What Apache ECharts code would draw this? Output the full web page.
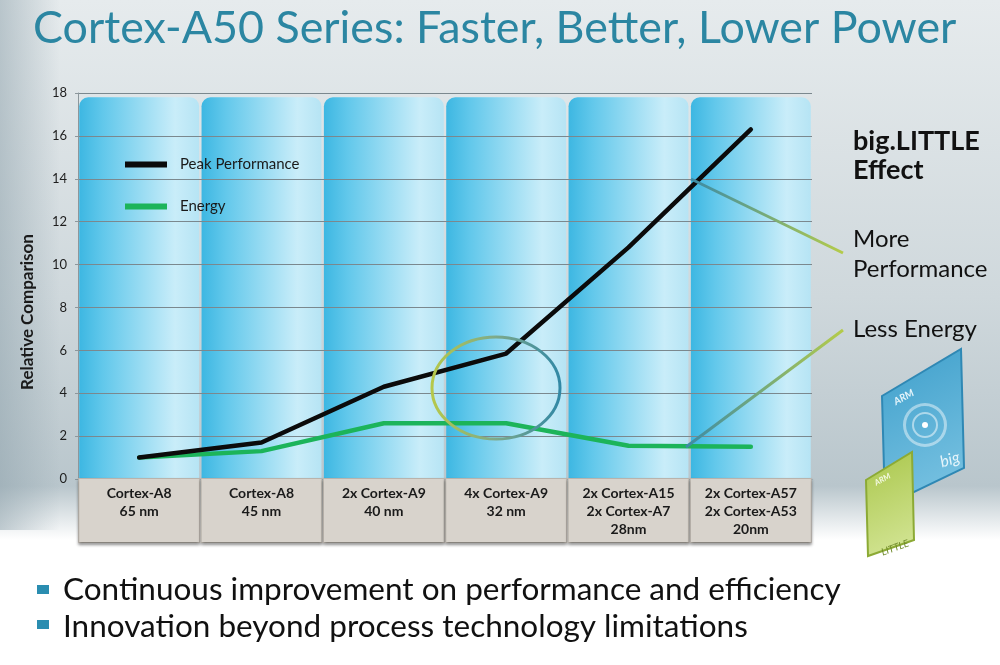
<!DOCTYPE html>
<html lang="en">
<head>
    <meta charset="UTF-8">
    <title>Cortex-A50 Series</title>
    <script src="https://cdn.jsdelivr.net/npm/echarts@6.0.0/dist/echarts.min.js"></script>
    <style>
        html, body {
            margin: 0;
            border: 0;
            background: #ffffff;
        }

        #chart {
            width: 1000px;
            height: 665px;
        }
    </style>
</head>
<body>
<div id="chart"></div>
<script type="text/javascript">
    const categories = [
        'Cortex-A8\n65 nm',
        'Cortex-A8\n45 nm',
        '2x Cortex-A9\n40 nm',
        '4x Cortex-A9\n32 nm',
        '2x Cortex-A15\n2x Cortex-A7\n28nm',
        '2x Cortex-A57\n2x Cortex-A53\n20nm'
    ];
    const peakPerformance = [1.0, 1.7, 4.3, 5.85, 10.8, 16.3];
    const energy = [1.0, 1.3, 2.6, 2.6, 1.55, 1.5];
    const yMin = 0;
    const yMax = 18;
    const yStep = 2;
    const bullets = [
        'Continuous improvement on performance and efficiency',
        'Innovation beyond process technology limitations'
    ];

    const FONT = 'Lato, "DejaVu Sans", sans-serif';

    window.onload = () => {
        const chart = echarts.init(document.querySelector('#chart'), null, {renderer: 'canvas'});

        const columnFill = new echarts.graphic.LinearGradient(0, 0, 1, 0, [
            {offset: 0, color: '#3db7e2'},
            {offset: 0.2, color: '#62c8eb'},
            {offset: 0.8, color: '#c9edf9'},
            {offset: 1, color: '#b6e4f4'}
        ]);
        const calloutStroke = () => new echarts.graphic.LinearGradient(0, 0, 1, 0, [
            {offset: 0, color: '#3a8aa8'},
            {offset: 1, color: '#b6cc48'}
        ]);

        const option = {
            animation: false,
            textStyle: {fontFamily: FONT},
            grid: {left: 78, right: 188, top: 93, bottom: 186},
            legend: {
                orient: 'vertical',
                left: 120,
                top: 152,
                itemWidth: 42,
                itemHeight: 6,
                itemGap: 27,
                icon: 'rect',
                data: ['Peak Performance', 'Energy'],
                textStyle: {fontFamily: FONT, fontSize: 15, color: '#1a1a1a', padding: [0, 0, 0, 8]}
            },
            xAxis: {
                type: 'category',
                data: categories,
                boundaryGap: true,
                axisLine: {show: true, lineStyle: {color: '#8c979c'}},
                axisTick: {show: false},
                axisLabel: {
                    interval: 0,
                    margin: 0,
                    fontFamily: FONT,
                    fontWeight: 'bold',
                    fontSize: 14,
                    color: '#1a1a1a',
                    lineHeight: 18,
                    width: 120,
                    height: 52,
                    padding: [5, 0, 6, 0],
                    align: 'center',
                    verticalAlign: 'top',
                    backgroundColor: '#d8d3cc',
                    borderColor: '#bdb7af',
                    borderWidth: 1,
                    shadowColor: 'rgba(0,0,0,0.35)',
                    shadowBlur: 3,
                    shadowOffsetY: 2
                }
            },
            yAxis: {
                type: 'value',
                min: yMin,
                max: yMax,
                interval: yStep,
                name: 'Relative Comparison',
                nameLocation: 'middle',
                nameGap: 42,
                nameTextStyle: {fontFamily: FONT, fontWeight: 'bold', fontSize: 17, color: '#1a1a1a', padding: [0, 52, 0, 0]},
                axisLine: {show: true, lineStyle: {color: '#8c979c'}},
                axisTick: {show: true, length: 3, lineStyle: {color: '#8c979c'}},
                axisLabel: {fontFamily: FONT, fontSize: 13, color: '#1e1e1e', margin: 11},
                splitLine: {show: true, lineStyle: {color: '#7b888e', width: 1}}
            },
            series: [
                {
                    name: 'columns',
                    type: 'bar',
                    z: -1,
                    silent: true,
                    barCategoryGap: '2%',
                    data: categories.map(() => yMax - 0.2),
                    itemStyle: {color: columnFill, borderRadius: [9, 9, 0, 0]}
                },
                {
                    name: 'Peak Performance',
                    type: 'line',
                    data: peakPerformance,
                    showSymbol: false,
                    symbol: 'none',
                    color: '#0b0b0b',
                    lineStyle: {color: '#0b0b0b', width: 4.5, cap: 'round', join: 'round'},
                    z: 4
                },
                {
                    name: 'Energy',
                    type: 'line',
                    data: energy,
                    showSymbol: false,
                    symbol: 'none',
                    color: '#1cb45a',
                    lineStyle: {color: '#1cb45a', width: 4.5, cap: 'round', join: 'round'},
                    z: 3
                }
            ],
            graphic: [
                {
                    type: 'rect', z: -10, silent: true,
                    shape: {x: 0, y: 0, width: 1000, height: 540},
                    style: {
                        fill: new echarts.graphic.LinearGradient(0, 0, 0, 1, [
                            {offset: 0, color: '#e6ebed'},
                            {offset: 0.55, color: '#cfd8dc'},
                            {offset: 0.9, color: '#b9c6cc'},
                            {offset: 1, color: '#ffffff'}
                        ])
                    }
                },
                {
                    type: 'rect', z: -9, silent: true,
                    shape: {x: 0, y: 0, width: 60, height: 530},
                    style: {
                        fill: new echarts.graphic.LinearGradient(0, 0, 1, 0, [
                            {offset: 0, color: 'rgba(140,160,170,0.5)'},
                            {offset: 1, color: 'rgba(140,160,170,0)'}
                        ])
                    }
                },
                {
                    type: 'text', left: 33, top: 6,
                    style: {text: 'Cortex-A50 Series: Faster, Better, Lower Power', font: '44.8px ' + FONT, fill: '#2b86a2'}
                },
                // big.LITTLE callouts
                {
                    type: 'line', z: 20,
                    shape: {x1: 691, y1: 179, x2: 843, y2: 253},
                    style: {lineWidth: 3, stroke: calloutStroke()}
                },
                {
                    type: 'line', z: 20,
                    shape: {x1: 686, y1: 447, x2: 843, y2: 330},
                    style: {lineWidth: 3, stroke: calloutStroke()}
                },
                {
                    type: 'ellipse', z: 20,
                    shape: {cx: 496, cy: 388, rx: 64, ry: 51},
                    style: {
                        fill: 'none',
                        lineWidth: 3,
                        stroke: new echarts.graphic.LinearGradient(0, 0, 1, 0, [
                            {offset: 0, color: '#b8c948'},
                            {offset: 0.5, color: '#7da98a'},
                            {offset: 1, color: '#2f87a6'}
                        ])
                    }
                },
                {type: 'text', left: 853, top: 128, style: {text: 'big.LITTLE', font: 'bold 27px ' + FONT, fill: '#111'}},
                {type: 'text', left: 853, top: 157, style: {text: 'Effect', font: 'bold 27px ' + FONT, fill: '#111'}},
                {type: 'text', left: 853, top: 227, style: {text: 'More', font: '24px ' + FONT, fill: '#111'}},
                {type: 'text', left: 853, top: 257, style: {text: 'Performance', font: '24px ' + FONT, fill: '#111'}},
                {type: 'text', left: 853, top: 317, style: {text: 'Less Energy', font: '24px ' + FONT, fill: '#111'}},
                // chip illustration
                {
                    type: 'polygon', z: 15,
                    shape: {points: [[882, 396], [961, 349], [964, 468], [885, 506]]},
                    style: {
                        fill: new echarts.graphic.LinearGradient(0, 0, 1, 1, [
                            {offset: 0, color: '#3e9fcb'},
                            {offset: 1, color: '#7fc6e4'}
                        ]),
                        stroke: '#2f88b4', lineWidth: 2
                    }
                },
                {type: 'ring', z: 16, shape: {cx: 925, cy: 425, r: 22, r0: 19}, style: {fill: 'rgba(255,255,255,0.45)'}},
                {type: 'ring', z: 16, shape: {cx: 925, cy: 425, r: 13, r0: 11}, style: {fill: 'rgba(255,255,255,0.5)'}},
                {type: 'circle', z: 16, shape: {cx: 925, cy: 425, r: 3}, style: {fill: '#ffffff'}},
                {type: 'text', z: 16, x: 892, y: 398, rotation: 0.5, style: {text: 'ARM', font: 'italic bold 10px ' + FONT, fill: '#e6f5fb'}},
                {type: 'text', z: 16, x: 938, y: 455, rotation: 0.3, style: {text: 'big', font: 'italic 16px ' + FONT, fill: '#e6f5fb'}},
                {
                    type: 'polygon', z: 17,
                    shape: {points: [[866, 480], [912, 452], [914, 540], [868, 556]]},
                    style: {
                        fill: new echarts.graphic.LinearGradient(0, 0, 1, 1, [
                            {offset: 0, color: '#a9c64a'},
                            {offset: 1, color: '#d6e79a'}
                        ]),
                        stroke: '#8caa35', lineWidth: 2
                    }
                },
                {type: 'text', z: 18, x: 873, y: 480, rotation: 0.5, style: {text: 'ARM', font: 'italic bold 8px ' + FONT, fill: '#f4f9e3'}},
                {type: 'text', z: 18, x: 880, y: 548, rotation: 0.35, style: {text: 'LITTLE', font: 'italic 10px ' + FONT, fill: '#6f8a2a'}},
                // bullets
                {type: 'rect', left: 37, top: 585, shape: {width: 12, height: 9}, style: {fill: '#2a8db0'}},
                {type: 'rect', left: 37, top: 620, shape: {width: 12, height: 9}, style: {fill: '#2a8db0'}},
                {type: 'text', left: 63, top: 574, style: {text: bullets[0], font: '31.5px ' + FONT, fill: '#111'}},
                {type: 'text', left: 63, top: 611, style: {text: bullets[1], font: '31.5px ' + FONT, fill: '#111'}}
            ]
        };
        chart.setOption(option, true);
    };
</script>
</body>
</html>
